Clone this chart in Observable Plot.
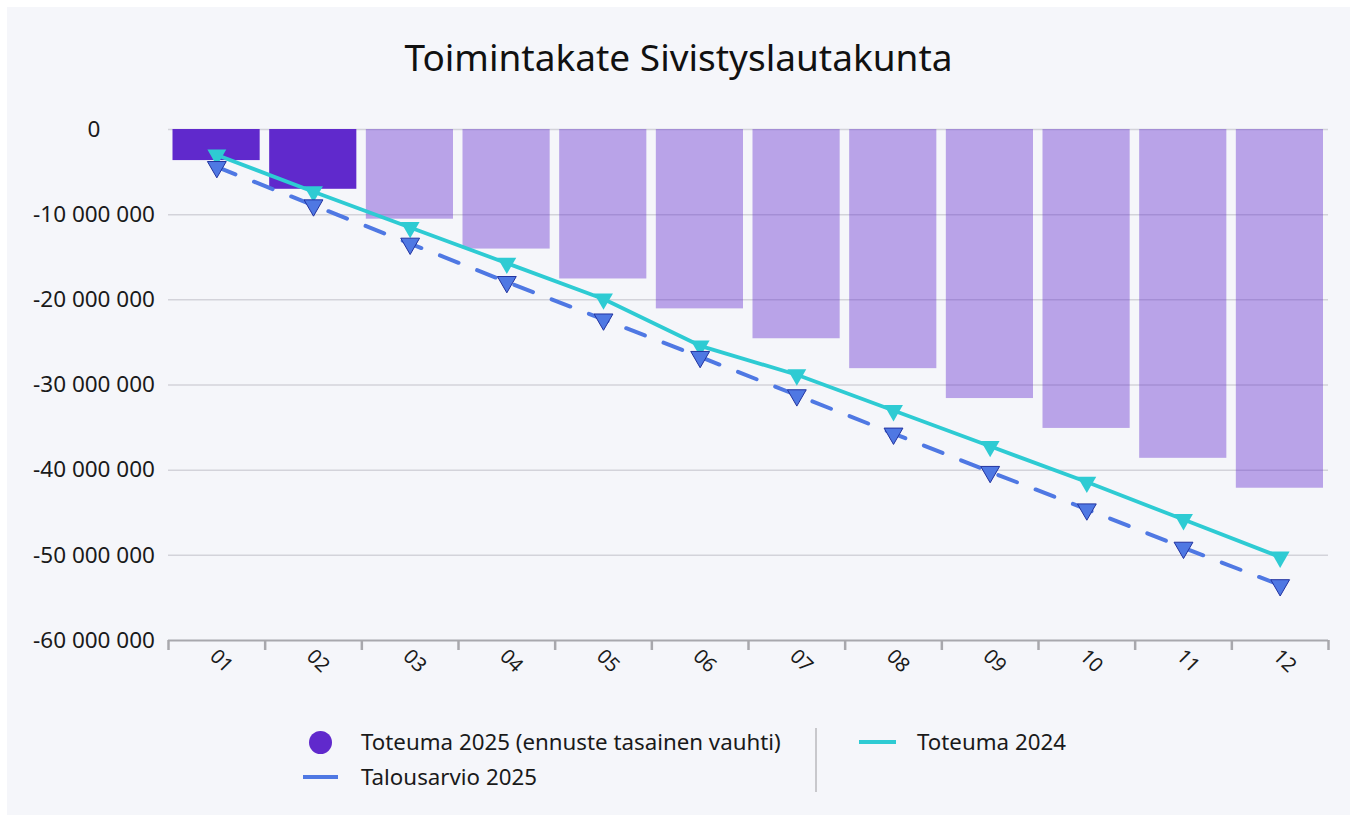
<!DOCTYPE html>
<html><head><meta charset="utf-8">
<script src="https://cdn.jsdelivr.net/npm/d3@7"></script>
<script src="https://cdn.jsdelivr.net/npm/@observablehq/plot@0.6"></script>
<style>
body{margin:0;background:#fff;font-family:"Noto Sans",sans-serif;color:#111;}
#frame{position:absolute;left:7px;top:7px;width:1343px;height:808px;background:#f5f6fa;}
#title{position:absolute;left:0;top:30px;width:1357px;text-align:center;font-size:37px;line-height:54px;color:#111;}
#chart{position:absolute;left:0;top:100px;}
.lt{position:absolute;font-size:22.3px;line-height:28px;color:#1a1a1a;white-space:nowrap;}
.sw{position:absolute;}
</style></head><body>
<div id="frame"></div>
<div id="title">Toimintakate Sivistyslautakunta</div>
<div id="chart"></div>
<div id="legend"></div>
<script>
// Data (values in euros)
const months = ["01","02","03","04","05","06","07","08","09","10","11","12"];
const toteuma2025 = [-3.65e6,-7.02e6,-10.53e6,-14.04e6,-17.55e6,-21.06e6,-24.57e6,-28.08e6,-31.59e6,-35.10e6,-38.61e6,-42.12e6];
const actualMonths = 2; // first months are actuals, rest forecast
const talousarvio2025 = [-4.4e6,-8.9e6,-13.4e6,-17.9e6,-22.3e6,-26.7e6,-31.2e6,-35.7e6,-40.2e6,-44.6e6,-49.1e6,-53.5e6];
const toteuma2024 = [-3.0e6,-7.3e6,-11.5e6,-15.7e6,-19.9e6,-25.4e6,-28.8e6,-33.0e6,-37.2e6,-41.4e6,-45.8e6,-50.2e6];
const yTicks = [0,-10e6,-20e6,-30e6,-40e6,-50e6,-60e6];
const legendLabels = ["Toteuma 2025 (ennuste tasainen vauhti)","Talousarvio 2025","Toteuma 2024"];

const cPurple = "#6029cc", cCyan = "#2ecbd3", cBlue = "#4f78e3", cBlueStroke = "#2233a0";

const rows = months.map((m,i)=>({m, i, actual: toteuma2025[i], budget: talousarvio2025[i], prev: toteuma2024[i], isActual: i < actualMonths}));
const fmt = d => d === 0 ? "0" : "-" + d3.format(",")(-d).replace(/,/g, " ");
const cx = d => d.i + 0.5;

const chart = Plot.plot({
  width: 1357, height: 620,
  marginLeft: 168, marginRight: 29, marginTop: 29, marginBottom: 80,
  style: {background: "transparent", fontFamily: "Noto Sans", color: "#1a1a1a", overflow: "visible"},
  x: {type: "linear", domain: [0, 12], axis: null},
  y: {domain: [-60e6, 0], axis: null},
  marks: [
    Plot.ruleY(yTicks.slice(0, -1), {stroke: "#d3d3da", strokeWidth: 1.5}),
    Plot.rectY(rows.filter(d => !d.isActual), {x1: d => d.i, x2: d => d.i + 1, y1: 0, y2: "actual", insetLeft: 4.5, insetRight: 5, fill: cPurple, fillOpacity: 0.4}),
    Plot.rectY(rows.filter(d => d.isActual), {x1: d => d.i, x2: d => d.i + 1, y1: 0, y2: "actual", insetLeft: 4.5, insetRight: 5, fill: cPurple}),
    Plot.ruleY([-60e6], {stroke: "#a8a8ad", strokeWidth: 2}),
    Plot.axisX(d3.range(13), {tickSize: 10, tickFormat: () => "", stroke: "#a8a8ad", strokeWidth: 2.5}),
    Plot.text(rows, {x: cx, text: "m", frameAnchor: "bottom", dy: 25, rotate: 45, textAnchor: "middle", fontSize: 20, fill: "#1a1a1a"}),
    Plot.axisY(yTicks, {tickSize: 0, tickPadding: 74.5, textAnchor: "middle", tickFormat: fmt, fontSize: 22.5, fill: "#1a1a1a"}),
    Plot.line(rows, {x: cx, y: "prev", stroke: cCyan, strokeWidth: 3.8}),
    Plot.dot(rows, {x: cx, y: "prev", symbol: "triangle", r: 7, rotate: 180, fill: cCyan, stroke: "none"}),
    Plot.line(rows, {x: cx, y: "budget", stroke: cBlue, strokeWidth: 4, strokeDasharray: "20,20"}),
    Plot.dot(rows, {x: cx, y: "budget", symbol: "triangle", r: 7, rotate: 180, fill: cBlue, stroke: cBlueStroke, strokeWidth: 1})
  ]
});
document.getElementById("chart").appendChild(chart);

// Legend
const leg = document.getElementById("legend");
function add(html){ leg.insertAdjacentHTML("beforeend", html); }
add(`<div class="sw" style="left:308.5px;top:730.5px;width:23px;height:23px;border-radius:50%;background:${cPurple}"></div>`);
add(`<div class="lt" style="left:361px;top:728px">${legendLabels[0]}</div>`);
add(`<div class="sw" style="left:303px;top:775px;width:35px;height:4px;background:${cBlue}"></div>`);
add(`<div class="lt" style="left:361px;top:763px">${legendLabels[1]}</div>`);
add(`<div class="sw" style="left:814.5px;top:728px;width:2px;height:64px;background:#c8c8cc"></div>`);
add(`<div class="sw" style="left:859px;top:740px;width:37px;height:4px;background:${cCyan}"></div>`);
add(`<div class="lt" style="left:917px;top:728px">${legendLabels[2]}</div>`);
</script>
</body></html>
